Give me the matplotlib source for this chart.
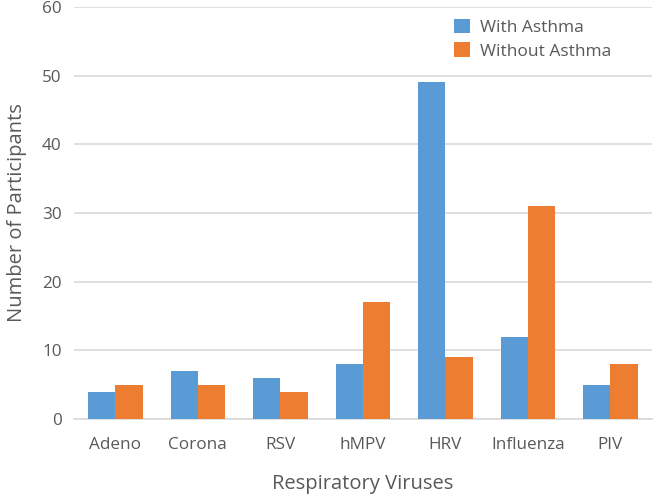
import matplotlib

matplotlib.use("Agg")
import matplotlib.pyplot as plt
import numpy as np

plt.rcParams["font.family"] = ["Open Sans", "DejaVu Sans"]

INK = "#595959"
GRID = "#D9D9D9"
BLUE = "#5B9BD5"
ORANGE = "#ED7D31"

viruses = ["Adeno", "Corona", "RSV", "hMPV", "HRV", "Influenza", "PIV"]
with_asthma = [4, 7, 6, 8, 49, 12, 5]
without_asthma = [5, 5, 4, 17, 9, 31, 8]

fig = plt.figure(figsize=(6.55, 4.95), dpi=100)
ax = fig.add_axes([0.113, 0.1535, 0.882, 0.8325])

x = np.arange(len(viruses))
w = 0.33
ax.bar(x - w / 2, with_asthma, w, color=BLUE, label="With Asthma", zorder=3)
ax.bar(x + w / 2, without_asthma, w, color=ORANGE, label="Without Asthma", zorder=3)

ax.set_xlim(-0.5, len(viruses) - 0.5)
ax.set_ylim(0, 60)
ax.set_yticks(range(0, 61, 10))
ax.set_xticks(x)
ax.set_xticklabels(viruses)
ax.yaxis.grid(True, color=GRID, linewidth=1.2, zorder=0)
ax.set_axisbelow(True)
for s in ["top", "right", "left"]:
    ax.spines[s].set_visible(False)
ax.spines["bottom"].set_color(GRID)
ax.spines["bottom"].set_linewidth(1.2)
ax.tick_params(length=0, colors=INK, labelsize=12.3)
ax.tick_params(axis="x", pad=13)
ax.tick_params(axis="y", pad=9)

ax.set_xlabel("Respiratory Viruses", color=INK, fontsize=14.5, labelpad=15)
ax.set_ylabel("Number of Participants", color=INK, fontsize=14.5, labelpad=11)

ax.legend(loc="upper left", bbox_to_anchor=(0.6375, 1.0), frameon=False,
          fontsize=12.5, labelcolor=INK, handlelength=0.9, handleheight=0.9,
          handletextpad=0.6, labelspacing=0.35, borderpad=0.2)

fig.savefig("out.png", dpi=100)
